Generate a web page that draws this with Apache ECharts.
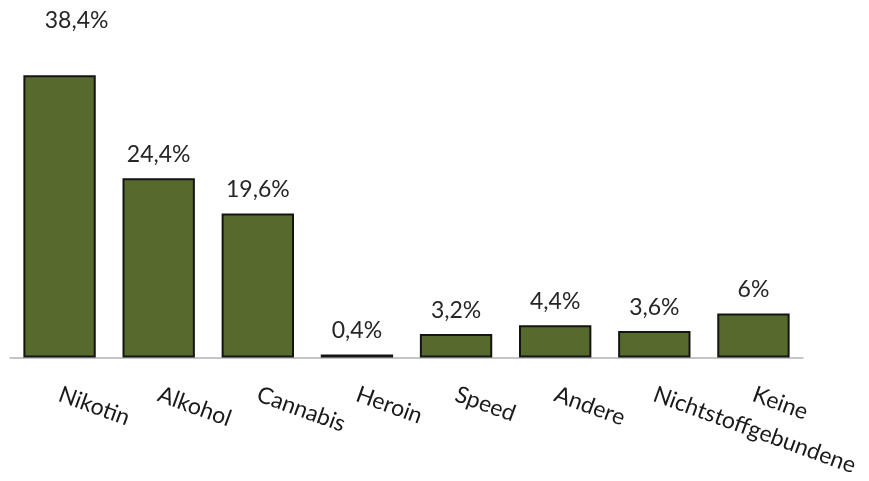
<!DOCTYPE html>
<html>
<head>
<meta charset="utf-8">
<script src="https://cdn.jsdelivr.net/npm/echarts@6/dist/echarts.min.js"></script>
<style>
  html, body { margin: 0; padding: 0; background: #ffffff; }
  #chart { width: 869px; height: 481px; }
</style>
</head>
<body>
<div id="chart"></div>
<script>
// Konsumierte Substanzen (Anteil in %)
const categories = ['Nikotin', 'Alkohol', 'Cannabis', 'Heroin', 'Speed', 'Andere', 'Nichtstoffgebundene', 'Keine'];
const values = [38.4, 24.4, 19.6, 0.4, 3.2, 4.4, 3.6, 6];

const FONT = 'Lato, "Open Sans", sans-serif';
const BAR = '#576a2e';

// the tallest bar's label sits higher and slightly to the right
const seriesData = values.map((v, i) => {
  const item = { value: v };
  if (i === 0) item.label = { offset: [17, -31] };
  return item;
});

const chart = echarts.init(document.getElementById('chart'), null, { renderer: 'canvas' });
chart.setOption({
  animation: false,
  grid: { left: 10, right: 66, top: 63.5, bottom: 123.5, containLabel: false },
  xAxis: {
    type: 'category',
    data: categories,
    axisLine: { show: true, lineStyle: { color: '#b3b3b3', width: 1.5 } },
    axisTick: { show: false },
    axisLabel: {
      interval: 0,
      rotate: -20,
      margin: 36,
      fontFamily: FONT,
      fontSize: 23,
      color: '#1a1a1a'
    }
  },
  yAxis: {
    type: 'value',
    min: 0,
    max: 40,
    show: false,
    splitLine: { show: false }
  },
  series: [{
    type: 'bar',
    data: seriesData,
    barWidth: '73%',
    itemStyle: { color: BAR, borderColor: '#141414', borderWidth: 2 },
    label: {
      show: true,
      position: 'top',
      distance: 12,
      fontFamily: FONT,
      fontSize: 23,
      color: '#262626',
      formatter: p => String(p.value).replace('.', ',') + '%'
    }
  }]
});
</script>
</body>
</html>
